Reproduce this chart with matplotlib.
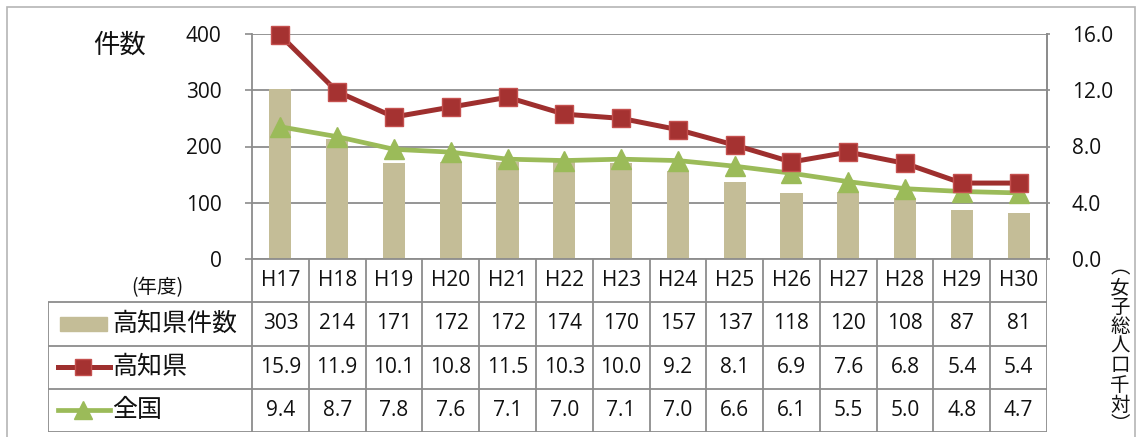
import matplotlib
matplotlib.use("Agg")
import matplotlib.pyplot as plt
from matplotlib.patches import Rectangle

plt.rcParams['font.family'] = ['Open Sans', 'Noto Sans CJK JP', 'DejaVu Sans']

years = ['H17', 'H18', 'H19', 'H20', 'H21', 'H22', 'H23', 'H24', 'H25', 'H26', 'H27', 'H28', 'H29', 'H30']
kochi_count = [303, 214, 171, 172, 172, 174, 170, 157, 137, 118, 120, 108, 87, 81]
kochi_rate = [15.9, 11.9, 10.1, 10.8, 11.5, 10.3, 10.0, 9.2, 8.1, 6.9, 7.6, 6.8, 5.4, 5.4]
national_rate = [9.4, 8.7, 7.8, 7.6, 7.1, 7.0, 7.1, 7.0, 6.6, 6.1, 5.5, 5.0, 4.8, 4.7]

bar_color = '#C4BD97'
red = '#9E2F2E'
red_face = '#A53231'
red_edge = '#C4504E'
green = '#9BBB59'
grid_col = '#8C8C8C'
txt_col = '#111111'

W, H = 1136, 437
fig = plt.figure(figsize=(W / 100, H / 100), dpi=100)


def px_box(x0, y0, x1, y1):
    return [x0 / W, 1 - y1 / H, (x1 - x0) / W, (y1 - y0) / H]


# outer frame
fig.add_artist(Rectangle((7 / W, -0.05), (1135 - 7) / W, 1 - 7 / H + 0.05,
                         transform=fig.transFigure, fill=False,
                         edgecolor='#B5B5B5', lw=1.2))

ax = fig.add_axes(px_box(252, 34, 1047, 259))
x = list(range(len(years)))
ax.bar(x, kochi_count, width=0.39, color=bar_color, zorder=2)
ax.set_xlim(-0.5, len(years) - 0.5)
ax.set_ylim(0, 400)
ax.set_yticks([0, 100, 200, 300, 400])
ax.set_xticks([])
ax.yaxis.grid(True, color=grid_col, lw=1.3)
ax.set_axisbelow(True)
ax.tick_params(axis='y', length=5, width=1.2, color=grid_col, pad=17,
               labelsize=15, labelcolor=txt_col)
ax.spines['top'].set_visible(False)
for s in ['left', 'right', 'bottom']:
    ax.spines[s].set_color(grid_col)
    ax.spines[s].set_linewidth(1.3)

ax2 = ax.twinx()
ax2.plot(x, kochi_rate, color=red, lw=3.6, marker='s', markersize=13,
         markerfacecolor=red_face, markeredgecolor=red_edge, markeredgewidth=1,
         zorder=4, clip_on=False)
ax2.plot(x, national_rate, color=green, lw=3.4, marker='^', markersize=14,
         markerfacecolor=green, markeredgecolor=green, zorder=3, clip_on=False)
ax2.set_ylim(0, 16)
ax2.set_yticks([0, 4, 8, 12, 16])
ax2.set_yticklabels(['%.1f' % v for v in [0, 4, 8, 12, 16]])
ax2.tick_params(axis='y', length=2, width=1.2, color=grid_col, pad=16,
                labelsize=15, labelcolor=txt_col)
for s in ['top', 'left', 'bottom']:
    ax2.spines[s].set_visible(False)
ax2.spines['right'].set_color(grid_col)
ax2.spines['right'].set_linewidth(1.3)

# data table under the chart, columns aligned with the categories
cat_w = (1047 - 252) / len(years)
left_w = (252 - 48) / cat_w
x_left = -0.5 - left_w
tab = fig.add_axes(px_box(48, 259, 1047, 432))
tab.set_xlim(x_left, len(years) - 0.5)
tab.set_ylim(4, 0)
tab.axis('off')

line_kw = dict(color=grid_col, lw=1.3, solid_capstyle='butt')
for r in [1, 2, 3, 4]:
    tab.plot([x_left, len(years) - 0.5], [r, r], **line_kw)
for i in range(len(years) + 1):
    tab.plot([i - 0.5, i - 0.5], [0, 4], **line_kw)
tab.plot([x_left, x_left], [1, 4], **line_kw)

for i, yr in enumerate(years):
    tab.text(i, 0.5, yr, ha='center', va='center', fontsize=15, color=txt_col)
    tab.text(i, 1.5, str(kochi_count[i]), ha='center', va='center', fontsize=15, color=txt_col)
    tab.text(i, 2.5, '%.1f' % kochi_rate[i], ha='center', va='center', fontsize=15, color=txt_col)
    tab.text(i, 3.5, '%.1f' % national_rate[i], ha='center', va='center', fontsize=15, color=txt_col)


def px_x(p):
    return x_left + (p - 48) / cat_w


# legend keys inside the table
tab.add_patch(Rectangle((px_x(60), 1.5 - 0.16), px_x(107) - px_x(60), 0.32,
                        color=bar_color))
tab.plot([px_x(58), px_x(110)], [2.5, 2.5], color=red, lw=3.6)
tab.plot([px_x(83)], [2.5], marker='s', markersize=11, color=red_face,
         markeredgecolor=red_edge)
tab.plot([px_x(58), px_x(110)], [3.5, 3.5], color=green, lw=3.4)
tab.plot([px_x(83)], [3.5], marker='^', markersize=13, color=green)

labels = ['高知県件数', '高知県', '全国']
for r, lab in enumerate(labels):
    tab.text(px_x(112), 1.5 + r, lab, ha='left', va='center', fontsize=18,
             color=txt_col, family=['Noto Sans CJK JP'])

fig.text(120 / W, 1 - 45 / H, '件数', ha='center', va='center', fontsize=19,
         color=txt_col, family=['Noto Sans CJK JP'])
fig.text(157 / W, 1 - 288 / H, '(年度)', ha='center', va='center', fontsize=14,
         color=txt_col, family=['Noto Sans CJK JP'])

# vertical unit label on the right
unit = '︵女子総人口千対︶'
y0, step = 268, 19.6
for k, ch in enumerate(unit):
    fig.text(1120 / W, 1 - (y0 + k * step) / H, ch, ha='center', va='center',
             fontsize=14, color=txt_col, family=['Noto Sans CJK JP'])

fig.savefig('out.png', dpi=100)
